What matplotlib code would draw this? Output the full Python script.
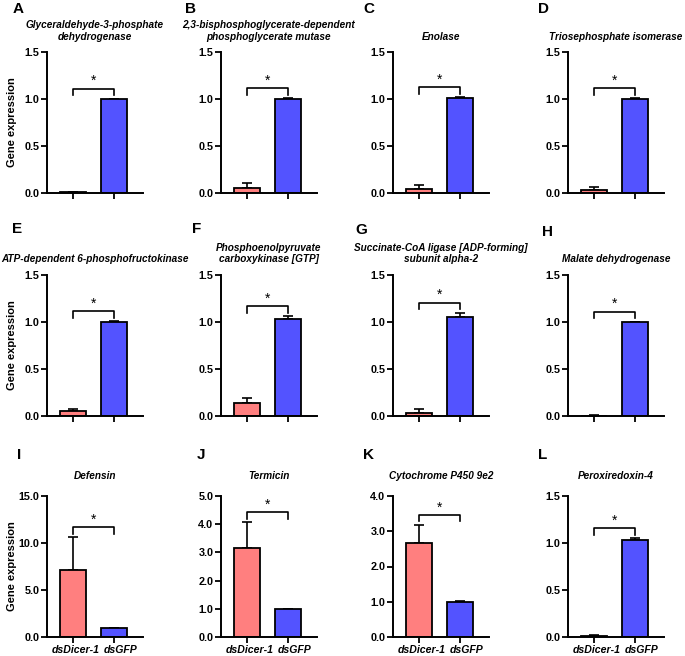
import numpy as np
import matplotlib
matplotlib.use('Agg')
import matplotlib.pyplot as plt

plt.rcParams['font.family'] = ['Liberation Sans', 'DejaVu Sans']
plt.rcParams['font.weight'] = 'bold'

# data
letters = ['A', 'B', 'C', 'D', 'E', 'F', 'G', 'H', 'I', 'J', 'K', 'L']
titles = [
    'Glyceraldehyde-3-phosphate\ndehydrogenase',
    '2,3-bisphosphoglycerate-dependent\nphosphoglycerate mutase',
    'Enolase',
    'Triosephosphate isomerase',
    'ATP-dependent 6-phosphofructokinase',
    'Phosphoenolpyruvate\ncarboxykinase [GTP]',
    'Succinate-CoA ligase [ADP-forming]\nsubunit alpha-2',
    'Malate dehydrogenase',
    'Defensin',
    'Termicin',
    'Cytochrome P450 9e2',
    'Peroxiredoxin-4',
]
groups = ['dsDicer-1', 'dsGFP']
dicer_mean = [0.01, 0.05, 0.04, 0.03, 0.05, 0.14, 0.035, 0.005, 7.1, 3.15, 2.68, 0.01]
dicer_err = [0.0, 0.06, 0.04, 0.035, 0.025, 0.055, 0.04, 0.005, 3.5, 0.92, 0.5, 0.015]
gfp_mean = [1.0, 1.0, 1.01, 1.0, 1.0, 1.03, 1.05, 1.0, 1.0, 1.0, 1.0, 1.03]
gfp_err = [0.005, 0.008, 0.01, 0.008, 0.01, 0.03, 0.05, 0.005, 0.0, 0.0, 0.02, 0.02]
y_max = [1.5, 1.5, 1.5, 1.5, 1.5, 1.5, 1.5, 1.5, 15.0, 5.0, 4.0, 1.5]
y_step = [0.5, 0.5, 0.5, 0.5, 0.5, 0.5, 0.5, 0.5, 5.0, 1.0, 1.0, 0.5]

colors = ['#FF7F7F', '#5353FF']

W, H = 685, 656
fig = plt.figure(figsize=(W / 100, H / 100), dpi=100)

# layout in pixels
col_left = [47, 221, 393, 568]
row_bottom = [193, 416, 637]
ax_w, ax_h = 96, 141
letter_pos = [(13, 9), (185, 9), (363, 9), (538, 9),
              (12, 229), (192, 229), (355, 230), (542, 232),
              (17, 455), (197, 455), (363, 455), (538, 455)]
label_dx = [2, 5]  # points, group labels sit a bit right of the ticks

for i in range(12):
    r, c = divmod(i, 4)
    left = col_left[c]
    bottom = row_bottom[r]
    ax = fig.add_axes([left / W, 1 - bottom / H, ax_w / W, ax_h / H])

    x = np.arange(2)
    means = [dicer_mean[i], gfp_mean[i]]
    errs = [dicer_err[i], gfp_err[i]]
    ax.bar(x, means, width=0.63, color=colors, edgecolor='black', linewidth=1.3, zorder=2)
    ax.errorbar(x, means, yerr=[[0, 0], errs], fmt='none', ecolor='black',
                elinewidth=1.2, capsize=3.5, capthick=1.2, zorder=1)

    ym = y_max[i]
    ax.set_xlim(-0.63, 1.71)
    ax.set_ylim(0, ym)
    ax.set_yticks(np.arange(0, ym + 1e-9, y_step[i]))
    ax.yaxis.set_major_formatter(matplotlib.ticker.FormatStrFormatter('%.1f'))
    ax.set_xticks(x)
    ax.set_xticklabels([])
    ax.tick_params(axis='both', direction='out', length=4, width=1.3, labelsize=7.8, pad=1.5)
    for lab in ax.get_yticklabels():
        lab.set_fontweight('bold')
    for s in ['top', 'right']:
        ax.spines[s].set_visible(False)
    for s in ['left', 'bottom']:
        ax.spines[s].set_linewidth(1.4)

    if r == 2:
        for xi, g, dx in zip(x, groups, label_dx):
            ax.annotate(g, xy=(xi, 0), xycoords=('data', 'axes fraction'),
                        xytext=(dx, -9.4), textcoords='offset points',
                        ha='center', va='center', fontsize=7.6,
                        fontweight='bold', fontstyle='italic', annotation_clip=False)

    # significance bracket
    top = max(m + e for m, e in zip(means, errs))
    yb = top + 0.07 * ym
    leg = 0.045 * ym
    ax.plot([0, 0, 1, 1], [yb - leg, yb, yb, yb - leg], color='black', lw=1.2, clip_on=False)
    ax.text(0.5, yb + 0.005 * ym, '*', ha='center', va='bottom', fontsize=10, fontweight='normal')

    ax.set_title(titles[i], fontsize=7.2, fontweight='bold', fontstyle='italic',
                 pad=9 if r < 2 else 12, linespacing=1.2)

    if c == 0:
        ax.set_ylabel('Gene expression', fontsize=8, fontweight='bold')
        ax.yaxis.set_label_coords(-0.31, 0.5)

    lx, ly = letter_pos[i]
    fig.text(lx / W, 1 - ly / H, letters[i], fontsize=11, fontweight='bold',
             ha='left', va='center')

fig.savefig('out.png', dpi=100, facecolor='white')
